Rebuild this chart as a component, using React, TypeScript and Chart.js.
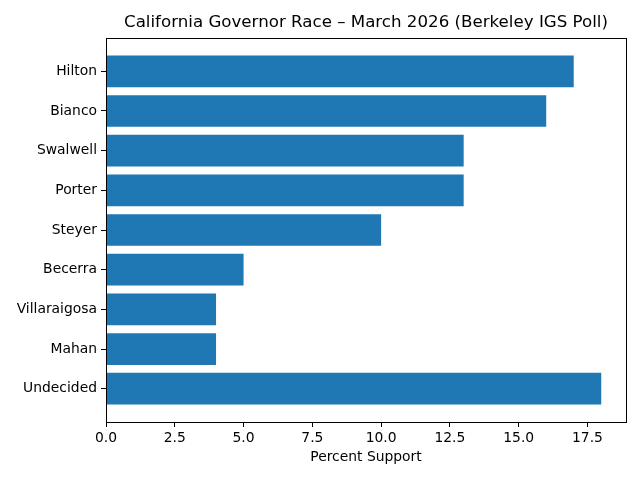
import React, { useEffect, useRef } from "react";
import { Chart, registerables } from "chart.js";

Chart.register(...registerables);

const candidates = ["Hilton", "Bianco", "Swalwell", "Porter", "Steyer", "Becerra", "Villaraigosa", "Mahan", "Undecided"];
const support = [17, 16, 13, 13, 10, 5, 4, 4, 18];
const xTicks = [0, 2.5, 5, 7.5, 10, 12.5, 15, 17.5];

const FONT = "'DejaVu Sans', sans-serif";

const framePlugin = {
  id: "frame",
  afterDraw(chart: any) {
    const { ctx, chartArea } = chart;
    ctx.save();
    ctx.strokeStyle = "#000";
    ctx.lineWidth = 1;
    ctx.strokeRect(
      Math.round(chartArea.left) + 0.5,
      Math.round(chartArea.top) + 0.5,
      Math.round(chartArea.right - chartArea.left),
      Math.round(chartArea.bottom - chartArea.top)
    );
    ctx.restore();
  },
};

export default function App() {
  const ref = useRef<HTMLCanvasElement>(null);
  useEffect(() => {
    document.body.style.margin = "0";
    const chart = new Chart(ref.current!, {
      type: "bar",
      data: {
        datasets: [
          {
            data: support.map((v, i) => ({ x: v, y: i })),
            backgroundColor: "#1f77b4",
            barPercentage: 0.8,
            categoryPercentage: 1.0,
          },
        ],
      },
      options: {
        indexAxis: "y",
        animation: false,
        responsive: false,
        devicePixelRatio: 1,
        layout: { padding: { left: 0, right: 14, top: 0, bottom: 0 } },
        plugins: {
          legend: { display: false },
          tooltip: { enabled: false },
          title: {
            display: true,
            fullSize: false,
            text: "California Governor Race – March 2026 (Berkeley IGS Poll)",
            color: "#000",
            font: { family: FONT, size: 16.67, weight: "normal", lineHeight: 1.2 },
            padding: { top: 13, bottom: 5 },
          },
        },
        scales: {
          x: {
            type: "linear",
            min: 0,
            max: 18.9,
            afterFit: (s: any) => { s.height = 58; },
            afterBuildTicks: (s: any) => { s.ticks = xTicks.map((v) => ({ value: v })); },
            ticks: {
              color: "#000",
              font: { family: FONT, size: 13.89 },
              padding: 3,
              maxRotation: 0,
              callback: (v: any) => Number(v).toFixed(1),
            },
            grid: { drawOnChartArea: false, drawTicks: true, tickLength: 5, color: "#000" },
            border: { display: true, color: "#000" },
            title: {
              display: true,
              text: "Percent Support",
              color: "#000",
              font: { family: FONT, size: 13.89, lineHeight: 1.2 },
              padding: { top: 2, bottom: 14 },
            },
          },
          y: {
            type: "linear",
            reverse: true,
            offset: false,
            min: -0.84,
            max: 8.84,
            afterFit: (s: any) => { s.width = 106; },
            afterBuildTicks: (s: any) => { s.ticks = candidates.map((_, i) => ({ value: i })); },
            ticks: {
              color: "#000",
              font: { family: FONT, size: 13.89 },
              padding: 4,
              autoSkip: false,
              callback: (v: any) => candidates[v] ?? "",
            },
            grid: { offset: false, drawOnChartArea: false, drawTicks: true, tickLength: 5, color: "#000" },
            border: { display: true, color: "#000" },
          },
        },
      } as any,
      plugins: [framePlugin],
    });
    return () => chart.destroy();
  }, []);
  return (
    <div style={{ width: 640, height: 480 }}>
      <canvas ref={ref} width={640} height={480} />
    </div>
  );
}
